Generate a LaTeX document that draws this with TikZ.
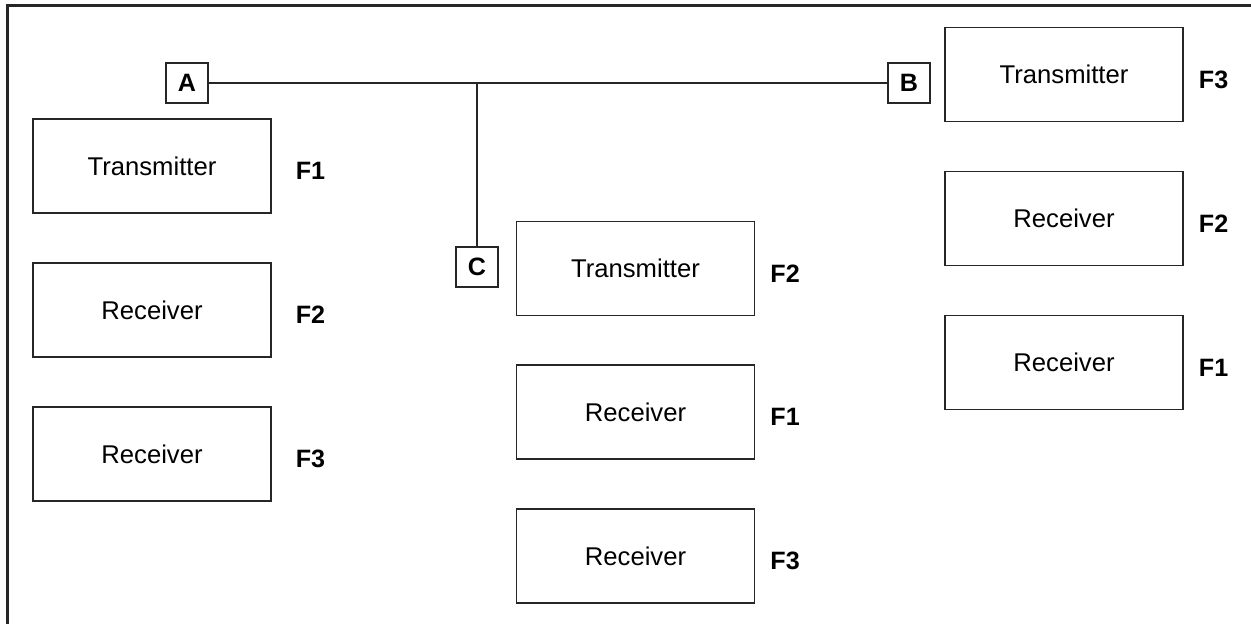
\documentclass[tikz,border=0pt]{standalone}
\usepackage{fontspec}
\setmainfont{Liberation Sans}
\usetikzlibrary{positioning}

\tikzset{
  unit/.style={draw=black!85, line width=0.65pt, minimum width=4.76cm,
    minimum height=1.88cm, inner sep=0pt, font=\fontsize{14.6}{17}\selectfont},
  port/.style={draw=black!85, line width=0.65pt, minimum width=0.84cm,
    minimum height=0.8cm, inner sep=0pt, font=\fontsize{14.3}{17}\selectfont\bfseries},
  freq/.style={inner sep=0pt, yshift=-0.1cm, font=\fontsize{14.3}{17}\selectfont\bfseries}
}

\begin{document}
\begin{tikzpicture}[x=0.02cm, y=-0.02cm]
\useasboundingbox (0,0) rectangle (1251,624);
\draw[black!85, line width=1.7pt] (7.5,624) -- (7.5,5.5) -- (1251,5.5);

% left station
\node[port] (A) at (187,83) {A};
\node[unit] (tA) at (152,166) {Transmitter};
\node[unit] (rA2) at (152,310) {Receiver};
\node[unit] (rA3) at (152,454) {Receiver};
\node[freq, right=0.48cm of tA, anchor=west] {F1};
\node[freq, right=0.48cm of rA2, anchor=west] {F2};
\node[freq, right=0.48cm of rA3, anchor=west] {F3};

% middle station
\node[port] (C) at (477,267) {C};
\node[unit] (tC) at (635.5,268.5) {Transmitter};
\node[unit] (rC1) at (635.5,412) {Receiver};
\node[unit] (rC3) at (635.5,556) {Receiver};
\node[freq, right=0.3cm of tC, anchor=west] {F2};
\node[freq, right=0.3cm of rC1, anchor=west] {F1};
\node[freq, right=0.3cm of rC3, anchor=west] {F3};

% right station
\node[port] (B) at (909,83) {B};
\node[unit] (tB) at (1064,74.5) {Transmitter};
\node[unit] (rB2) at (1064,218.5) {Receiver};
\node[unit] (rB1) at (1064,362.5) {Receiver};
\node[freq, right=0.3cm of tB, anchor=west] {F3};
\node[freq, right=0.3cm of rB2, anchor=west] {F2};
\node[freq, right=0.3cm of rB1, anchor=west] {F1};

% links
\draw[black!85, line width=0.6pt] (A.east) -- (B.west);
\draw[black!85, line width=0.6pt] (C.north) -- (C.north |- A.east);
\end{tikzpicture}
\end{document}
